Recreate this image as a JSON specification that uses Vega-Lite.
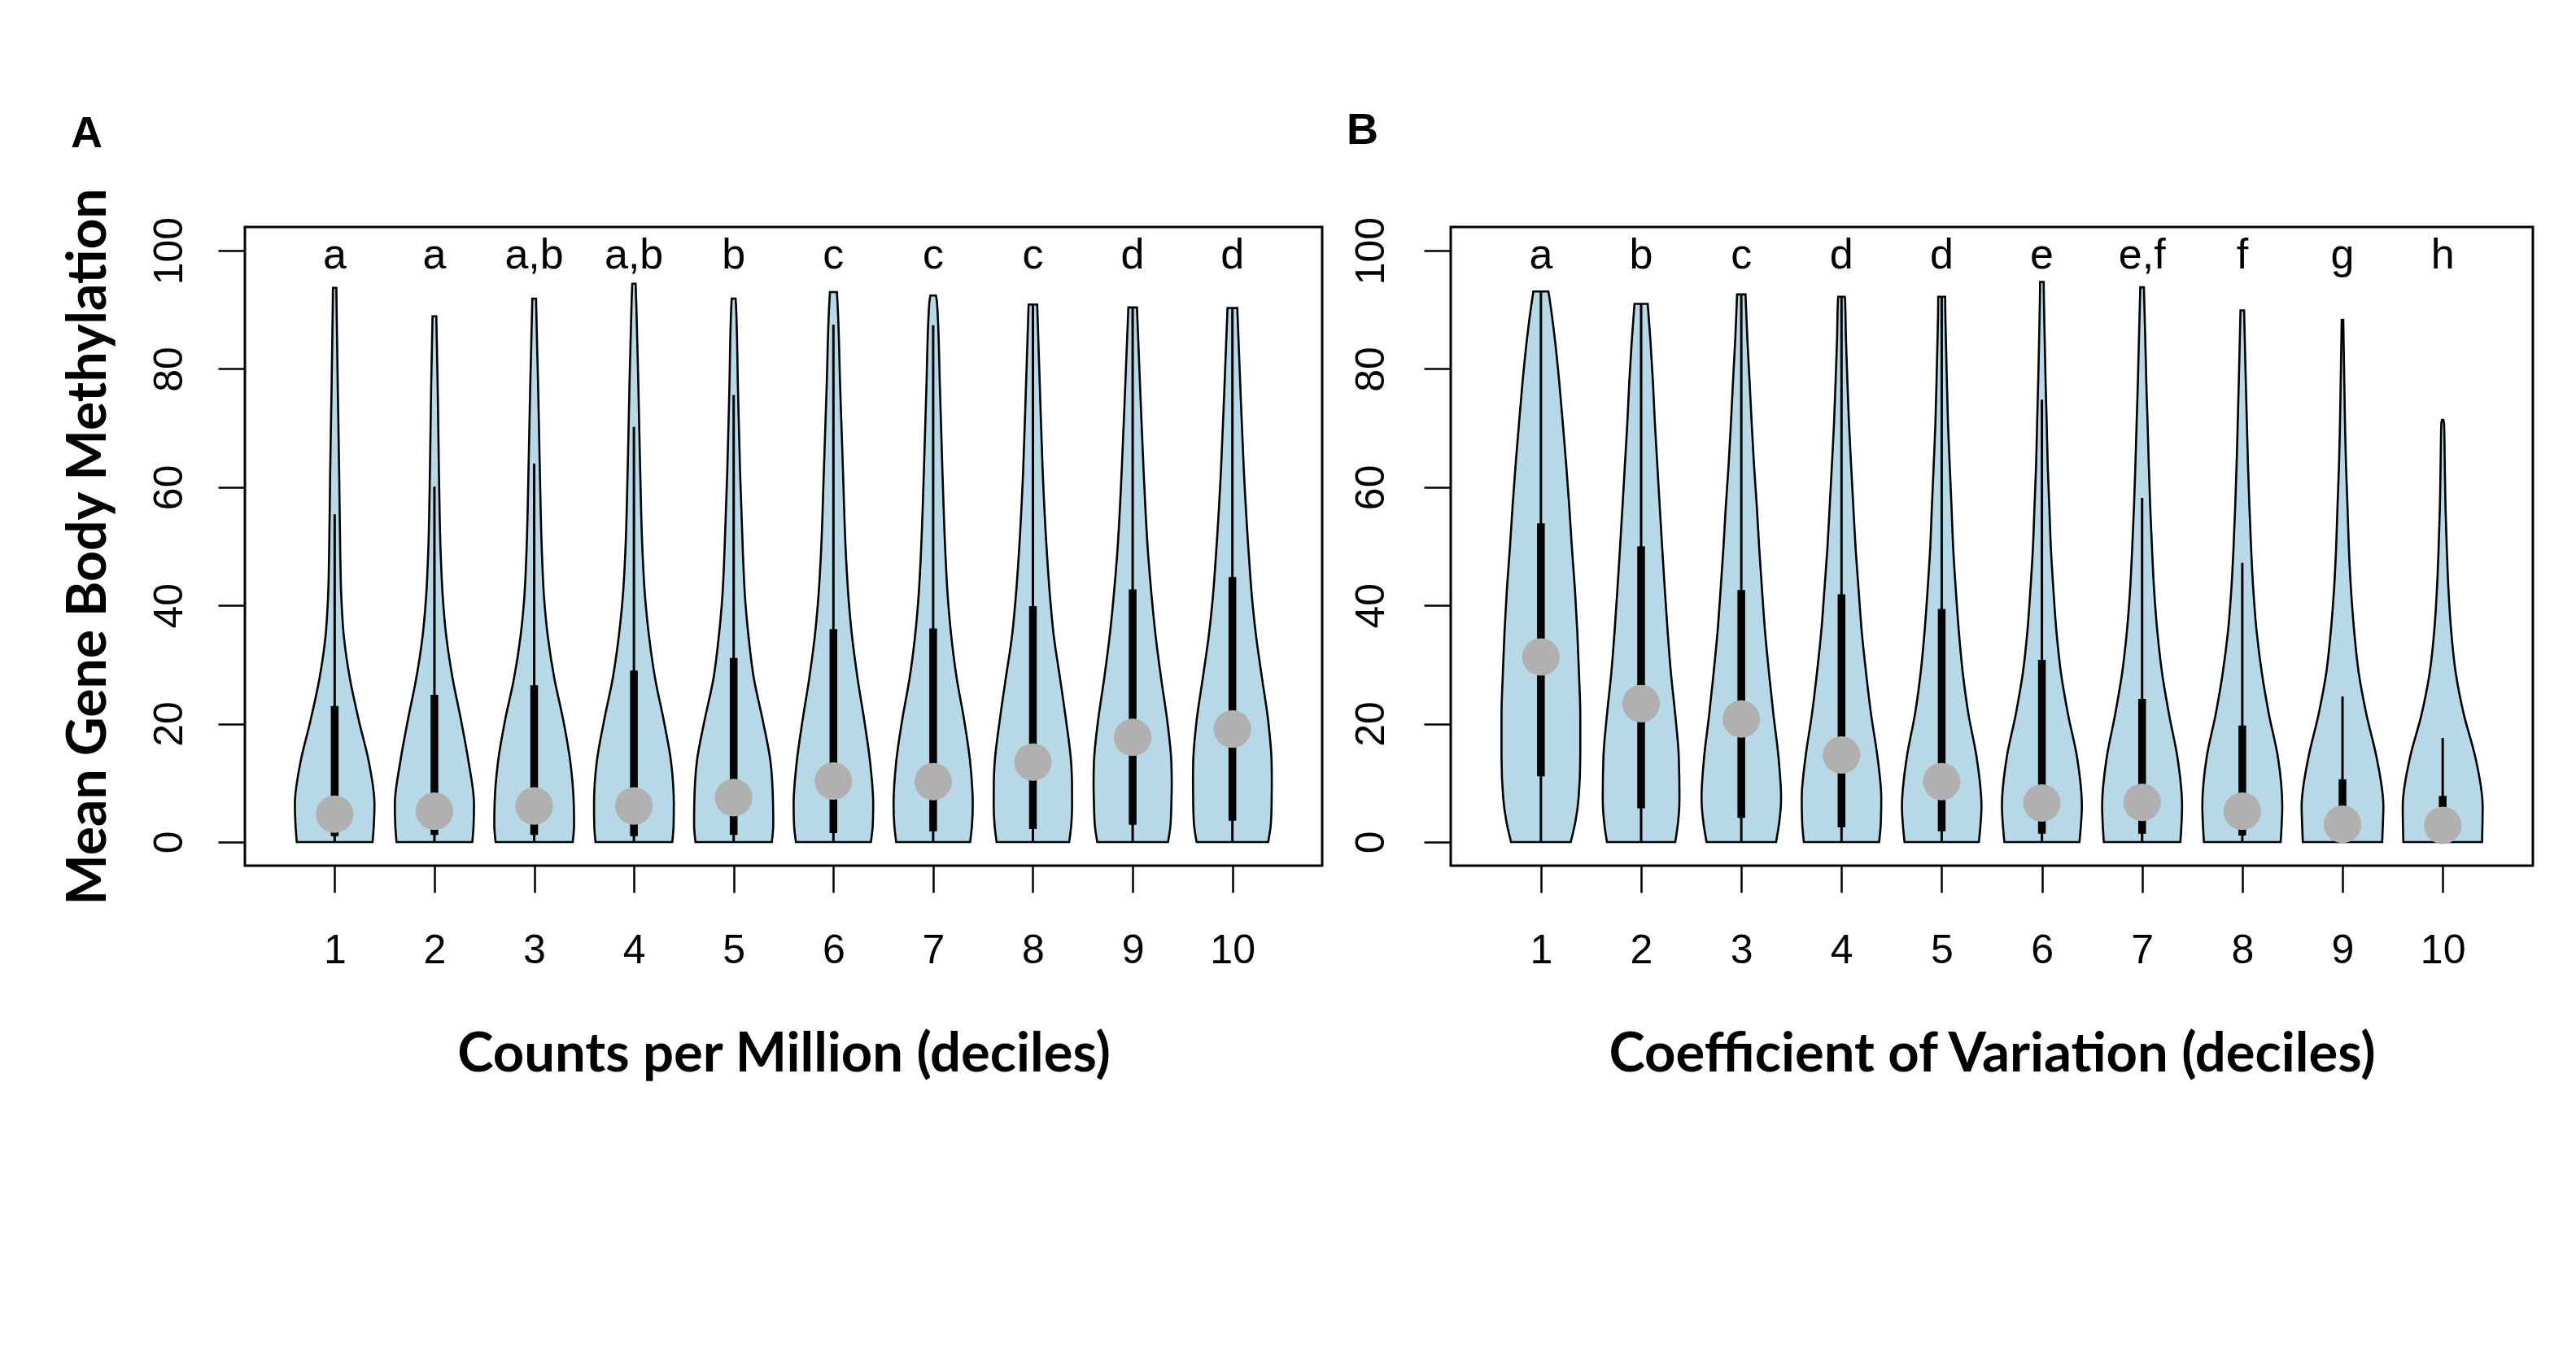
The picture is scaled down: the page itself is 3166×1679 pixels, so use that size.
{
  "$schema": "https://vega.github.io/schema/vega-lite/v6.json",
  "padding": {"left": 74, "top": 132, "right": 0, "bottom": 0},
  "background": "white",
  "config": {
    "view": {"stroke": "black", "strokeWidth": 3, "fill": "white"},
    "font": "Liberation Sans",
    "axis": {"grid": false, "domain": false, "tickColor": "black", "tickWidth": 2.5, "tickSize": 33, "labelColor": "black", "labelFont": "Liberation Sans", "labelFontSize": 50, "labelOverlap": false, "labelFlush": false, "titleColor": "black", "titleFont": "Lato", "titleFontWeight": "bold"}
  },
  "datasets": {
    "violinA": [
      {"d":1,"v":0,"w":0.38},{"d":1,"v":3,"w":0.393},{"d":1,"v":6.4,"w":0.399},{"d":1,"v":13.5,"w":0.343},{"d":1,"v":20.5,"w":0.243},{"d":1,"v":27.6,"w":0.153},{"d":1,"v":34.6,"w":0.093},{"d":1,"v":41.6,"w":0.066},{"d":1,"v":48.7,"w":0.056},{"d":1,"v":62.7,"w":0.045},{"d":1,"v":76.8,"w":0.031},{"d":1,"v":90.9,"w":0.019},{"d":1,"v":93.7,"w":0.017},
      {"d":2,"v":0,"w":0.38},{"d":2,"v":3,"w":0.393},{"d":2,"v":6.4,"w":0.397},{"d":2,"v":13.5,"w":0.343},{"d":2,"v":20.5,"w":0.268},{"d":2,"v":27.6,"w":0.183},{"d":2,"v":34.6,"w":0.12},{"d":2,"v":41.6,"w":0.083},{"d":2,"v":48.7,"w":0.063},{"d":2,"v":62.7,"w":0.045},{"d":2,"v":76.8,"w":0.033},{"d":2,"v":88.9,"w":0.019},
      {"d":3,"v":0,"w":0.387},{"d":3,"v":3,"w":0.4},{"d":3,"v":6.4,"w":0.397},{"d":3,"v":13.5,"w":0.363},{"d":3,"v":20.5,"w":0.293},{"d":3,"v":27.6,"w":0.203},{"d":3,"v":34.6,"w":0.138},{"d":3,"v":41.6,"w":0.098},{"d":3,"v":48.7,"w":0.078},{"d":3,"v":62.7,"w":0.057},{"d":3,"v":76.8,"w":0.04},{"d":3,"v":90.9,"w":0.02},{"d":3,"v":91.9,"w":0.019},
      {"d":4,"v":0,"w":0.385},{"d":4,"v":3,"w":0.398},{"d":4,"v":6.4,"w":0.4},{"d":4,"v":13.5,"w":0.373},{"d":4,"v":20.5,"w":0.3},{"d":4,"v":27.6,"w":0.213},{"d":4,"v":34.6,"w":0.153},{"d":4,"v":41.6,"w":0.111},{"d":4,"v":48.7,"w":0.087},{"d":4,"v":62.7,"w":0.063},{"d":4,"v":76.8,"w":0.045},{"d":4,"v":90.9,"w":0.024},{"d":4,"v":94.4,"w":0.017},
      {"d":5,"v":0,"w":0.383},{"d":5,"v":3,"w":0.397},{"d":5,"v":6.4,"w":0.395},{"d":5,"v":13.5,"w":0.37},{"d":5,"v":20.5,"w":0.293},{"d":5,"v":27.6,"w":0.203},{"d":5,"v":34.6,"w":0.15},{"d":5,"v":41.6,"w":0.113},{"d":5,"v":48.7,"w":0.093},{"d":5,"v":62.7,"w":0.064},{"d":5,"v":76.8,"w":0.043},{"d":5,"v":90.9,"w":0.023},{"d":5,"v":91.9,"w":0.019},
      {"d":6,"v":0,"w":0.376},{"d":6,"v":3,"w":0.395},{"d":6,"v":6.4,"w":0.399},{"d":6,"v":13.5,"w":0.368},{"d":6,"v":20.5,"w":0.31},{"d":6,"v":27.6,"w":0.243},{"d":6,"v":34.6,"w":0.188},{"d":6,"v":41.6,"w":0.15},{"d":6,"v":48.7,"w":0.125},{"d":6,"v":62.7,"w":0.096},{"d":6,"v":76.8,"w":0.068},{"d":6,"v":90.9,"w":0.042},{"d":6,"v":93.0,"w":0.035},
      {"d":7,"v":0,"w":0.371},{"d":7,"v":3,"w":0.39},{"d":7,"v":6.4,"w":0.397},{"d":7,"v":13.5,"w":0.371},{"d":7,"v":20.5,"w":0.312},{"d":7,"v":27.6,"w":0.237},{"d":7,"v":34.6,"w":0.183},{"d":7,"v":41.6,"w":0.146},{"d":7,"v":48.7,"w":0.123},{"d":7,"v":62.7,"w":0.093},{"d":7,"v":76.8,"w":0.068},{"d":7,"v":90.9,"w":0.04},{"d":7,"v":92.4,"w":0.028},
      {"d":8,"v":0,"w":0.364},{"d":8,"v":3,"w":0.385},{"d":8,"v":6.4,"w":0.393},{"d":8,"v":10,"w":0.392},{"d":8,"v":13.5,"w":0.383},{"d":8,"v":20.5,"w":0.333},{"d":8,"v":27.6,"w":0.273},{"d":8,"v":34.6,"w":0.211},{"d":8,"v":41.6,"w":0.171},{"d":8,"v":48.7,"w":0.141},{"d":8,"v":62.7,"w":0.098},{"d":8,"v":76.8,"w":0.07},{"d":8,"v":90.9,"w":0.043},
      {"d":9,"v":0,"w":0.355},{"d":9,"v":3,"w":0.38},{"d":9,"v":6.4,"w":0.388},{"d":9,"v":10,"w":0.392},{"d":9,"v":13.5,"w":0.388},{"d":9,"v":20.5,"w":0.347},{"d":9,"v":27.6,"w":0.286},{"d":9,"v":34.6,"w":0.232},{"d":9,"v":41.6,"w":0.19},{"d":9,"v":48.7,"w":0.155},{"d":9,"v":62.7,"w":0.11},{"d":9,"v":76.8,"w":0.075},{"d":9,"v":90.4,"w":0.043},
      {"d":10,"v":0,"w":0.359},{"d":10,"v":3,"w":0.385},{"d":10,"v":6.4,"w":0.393},{"d":10,"v":10,"w":0.395},{"d":10,"v":13.5,"w":0.393},{"d":10,"v":20.5,"w":0.359},{"d":10,"v":27.6,"w":0.298},{"d":10,"v":34.6,"w":0.239},{"d":10,"v":41.6,"w":0.195},{"d":10,"v":48.7,"w":0.164},{"d":10,"v":62.7,"w":0.115},{"d":10,"v":76.8,"w":0.08},{"d":10,"v":90.3,"w":0.049}
    ],
    "violinB": [
      {"d":1,"v":0,"w":0.298},{"d":1,"v":3.5,"w":0.345},{"d":1,"v":7.4,"w":0.376},{"d":1,"v":14.4,"w":0.393},{"d":1,"v":21.5,"w":0.393},{"d":1,"v":28.5,"w":0.38},{"d":1,"v":35.6,"w":0.363},{"d":1,"v":42.6,"w":0.34},{"d":1,"v":49.6,"w":0.31},{"d":1,"v":56.7,"w":0.283},{"d":1,"v":63.7,"w":0.253},{"d":1,"v":70.7,"w":0.219},{"d":1,"v":77.8,"w":0.183},{"d":1,"v":84.8,"w":0.141},{"d":1,"v":91.8,"w":0.087},{"d":1,"v":93.1,"w":0.075},
      {"d":2,"v":0,"w":0.341},{"d":2,"v":3.5,"w":0.37},{"d":2,"v":7.4,"w":0.383},{"d":2,"v":14.4,"w":0.376},{"d":2,"v":21.5,"w":0.341},{"d":2,"v":28.5,"w":0.298},{"d":2,"v":35.6,"w":0.265},{"d":2,"v":42.6,"w":0.237},{"d":2,"v":49.6,"w":0.211},{"d":2,"v":56.7,"w":0.186},{"d":2,"v":63.7,"w":0.162},{"d":2,"v":70.7,"w":0.138},{"d":2,"v":77.8,"w":0.118},{"d":2,"v":84.8,"w":0.093},{"d":2,"v":91.0,"w":0.066},
      {"d":3,"v":0,"w":0.347},{"d":3,"v":3.5,"w":0.38},{"d":3,"v":7.4,"w":0.397},{"d":3,"v":14.4,"w":0.371},{"d":3,"v":21.5,"w":0.321},{"d":3,"v":28.5,"w":0.277},{"d":3,"v":35.6,"w":0.237},{"d":3,"v":42.6,"w":0.207},{"d":3,"v":49.6,"w":0.179},{"d":3,"v":56.7,"w":0.155},{"d":3,"v":63.7,"w":0.127},{"d":3,"v":70.7,"w":0.104},{"d":3,"v":77.8,"w":0.083},{"d":3,"v":84.8,"w":0.061},{"d":3,"v":91.8,"w":0.044},{"d":3,"v":92.6,"w":0.042},
      {"d":4,"v":0,"w":0.376},{"d":4,"v":3.5,"w":0.393},{"d":4,"v":7.4,"w":0.397},{"d":4,"v":14.4,"w":0.359},{"d":4,"v":21.5,"w":0.296},{"d":4,"v":28.5,"w":0.246},{"d":4,"v":35.6,"w":0.202},{"d":4,"v":42.6,"w":0.171},{"d":4,"v":49.6,"w":0.141},{"d":4,"v":56.7,"w":0.118},{"d":4,"v":63.7,"w":0.096},{"d":4,"v":70.7,"w":0.075},{"d":4,"v":77.8,"w":0.059},{"d":4,"v":84.8,"w":0.045},{"d":4,"v":91.8,"w":0.035},{"d":4,"v":92.2,"w":0.033},
      {"d":5,"v":0,"w":0.371},{"d":5,"v":3.5,"w":0.39},{"d":5,"v":6,"w":0.397},{"d":5,"v":14.4,"w":0.348},{"d":5,"v":21.5,"w":0.268},{"d":5,"v":28.5,"w":0.211},{"d":5,"v":35.6,"w":0.171},{"d":5,"v":42.6,"w":0.141},{"d":5,"v":49.6,"w":0.115},{"d":5,"v":56.7,"w":0.098},{"d":5,"v":63.7,"w":0.08},{"d":5,"v":70.7,"w":0.063},{"d":5,"v":77.8,"w":0.052},{"d":5,"v":84.8,"w":0.042},{"d":5,"v":91.8,"w":0.035},{"d":5,"v":92.2,"w":0.035},
      {"d":6,"v":0,"w":0.375},{"d":6,"v":3,"w":0.39},{"d":6,"v":6,"w":0.399},{"d":6,"v":14.4,"w":0.35},{"d":6,"v":21.5,"w":0.262},{"d":6,"v":28.5,"w":0.191},{"d":6,"v":35.6,"w":0.145},{"d":6,"v":42.6,"w":0.115},{"d":6,"v":49.6,"w":0.09},{"d":6,"v":56.7,"w":0.074},{"d":6,"v":63.7,"w":0.058},{"d":6,"v":70.7,"w":0.048},{"d":6,"v":77.8,"w":0.037},{"d":6,"v":84.8,"w":0.028},{"d":6,"v":91.8,"w":0.02},{"d":6,"v":94.7,"w":0.018},
      {"d":7,"v":0,"w":0.382},{"d":7,"v":3,"w":0.393},{"d":7,"v":6,"w":0.399},{"d":7,"v":14.4,"w":0.352},{"d":7,"v":21.5,"w":0.27},{"d":7,"v":28.5,"w":0.2},{"d":7,"v":35.6,"w":0.152},{"d":7,"v":42.6,"w":0.12},{"d":7,"v":49.6,"w":0.099},{"d":7,"v":56.7,"w":0.081},{"d":7,"v":63.7,"w":0.067},{"d":7,"v":70.7,"w":0.055},{"d":7,"v":77.8,"w":0.042},{"d":7,"v":84.8,"w":0.032},{"d":7,"v":91.8,"w":0.021},{"d":7,"v":93.8,"w":0.018},
      {"d":8,"v":0,"w":0.383},{"d":8,"v":3,"w":0.393},{"d":8,"v":6,"w":0.399},{"d":8,"v":14.4,"w":0.355},{"d":8,"v":21.5,"w":0.267},{"d":8,"v":28.5,"w":0.196},{"d":8,"v":35.6,"w":0.143},{"d":8,"v":42.6,"w":0.11},{"d":8,"v":49.6,"w":0.088},{"d":8,"v":56.7,"w":0.071},{"d":8,"v":63.7,"w":0.057},{"d":8,"v":70.7,"w":0.046},{"d":8,"v":77.8,"w":0.035},{"d":8,"v":84.8,"w":0.025},{"d":8,"v":89.9,"w":0.018},
      {"d":9,"v":0,"w":0.396},{"d":9,"v":3,"w":0.403},{"d":9,"v":6,"w":0.408},{"d":9,"v":14.4,"w":0.339},{"d":9,"v":21.5,"w":0.24},{"d":9,"v":28.5,"w":0.163},{"d":9,"v":35.6,"w":0.117},{"d":9,"v":42.6,"w":0.085},{"d":9,"v":49.6,"w":0.064},{"d":9,"v":56.7,"w":0.05},{"d":9,"v":63.7,"w":0.035},{"d":9,"v":70.7,"w":0.025},{"d":9,"v":77.8,"w":0.018},{"d":9,"v":84.8,"w":0.011},{"d":9,"v":88.3,"w":0.008},
      {"d":10,"v":0,"w":0.393},{"d":10,"v":3,"w":0.397},{"d":10,"v":6,"w":0.399},{"d":10,"v":14.4,"w":0.325},{"d":10,"v":21.5,"w":0.212},{"d":10,"v":28.5,"w":0.131},{"d":10,"v":35.6,"w":0.085},{"d":10,"v":42.6,"w":0.058},{"d":10,"v":49.6,"w":0.041},{"d":10,"v":56.7,"w":0.028},{"d":10,"v":63.7,"w":0.021},{"d":10,"v":70.7,"w":0.014},{"d":10,"v":71.4,"w":0.006}
    ],
    "statsA": [
      {"d":1,"q1":1.0,"med":4.7,"q3":23.0,"wtop":55.4,"lab":"a"},
      {"d":2,"q1":1.2,"med":5.2,"q3":24.9,"wtop":60.1,"lab":"a"},
      {"d":3,"q1":1.2,"med":6.1,"q3":26.5,"wtop":64.0,"lab":"a,b"},
      {"d":4,"q1":1.0,"med":6.1,"q3":29.0,"wtop":70.2,"lab":"a,b"},
      {"d":5,"q1":1.2,"med":7.5,"q3":31.1,"wtop":75.6,"lab":"b"},
      {"d":6,"q1":1.5,"med":10.3,"q3":36.0,"wtop":87.5,"lab":"c"},
      {"d":7,"q1":1.8,"med":10.2,"q3":36.1,"wtop":87.4,"lab":"c"},
      {"d":8,"q1":2.2,"med":13.5,"q3":39.9,"wtop":90.9,"lab":"c"},
      {"d":9,"q1":2.9,"med":17.7,"q3":42.7,"wtop":90.4,"lab":"d"},
      {"d":10,"q1":3.6,"med":19.1,"q3":44.8,"wtop":90.3,"lab":"d"}
    ],
    "statsB": [
      {"d":1,"q1":11.1,"med":31.3,"q3":53.9,"wtop":93.1,"lab":"a"},
      {"d":2,"q1":5.7,"med":23.4,"q3":50.0,"wtop":91.0,"lab":"b"},
      {"d":3,"q1":4.1,"med":20.8,"q3":42.6,"wtop":92.6,"lab":"c"},
      {"d":4,"q1":2.5,"med":14.7,"q3":41.9,"wtop":92.2,"lab":"d"},
      {"d":5,"q1":1.8,"med":10.2,"q3":39.4,"wtop":92.2,"lab":"d"},
      {"d":6,"q1":1.4,"med":6.6,"q3":30.8,"wtop":74.8,"lab":"e"},
      {"d":7,"q1":1.4,"med":6.7,"q3":24.2,"wtop":58.2,"lab":"e,f"},
      {"d":8,"q1":1.1,"med":5.2,"q3":19.7,"wtop":47.2,"lab":"f"},
      {"d":9,"q1":0.5,"med":3.0,"q3":10.6,"wtop":24.6,"lab":"g"},
      {"d":10,"q1":0.5,"med":2.8,"q3":7.8,"wtop":17.6,"lab":"h"}
    ]
  },
  "spacing": 26,
  "hconcat": [
    {
      "width": 1324,
      "height": 785,
      "title": {"text": "A", "anchor": "start", "frame": "group", "dx": -214, "offset": -5, "baseline": "alphabetic", "fontSize": 54, "fontWeight": "bold", "font": "Liberation Sans", "color": "black"},
      "layer": [
        {
          "data": {"name": "violinA"},
          "transform": [{"calculate": "datum.d - datum.w", "as": "lo"}, {"calculate": "datum.d + datum.w", "as": "hi"}],
          "mark": {"type": "area", "orient": "horizontal", "fill": "#b7d8e6", "stroke": "black", "strokeWidth": 2.6, "interpolate": "monotone", "opacity": 1},
          "encoding": {
            "y": {"field": "v", "type": "quantitative", "scale": {"domain": [-4, 104], "nice": false, "zero": false},
                  "axis": {"values": [0, 20, 40, 60, 80, 100], "format": "d", "labelAngle": 270, "labelAlign": "center", "labelBaseline": "alphabetic", "labelPadding": 45, "titleFontSize": 66, "titleAngle": 270, "titleBaseline": "alphabetic", "titleAlign": "center", "titleX": -172, "titleY": 392.5},
                  "title": "Mean Gene Body Methylation"},
            "x": {"field": "lo", "type": "quantitative", "scale": {"domain": [0.1, 10.9], "nice": false, "zero": false},
                  "axis": {"values": [1, 2, 3, 4, 5, 6, 7, 8, 9, 10], "format": "d", "labelBaseline": "alphabetic", "labelPadding": 86, "titleFontSize": 67, "titleBaseline": "alphabetic", "titleY": 252},
                  "title": "Counts per Million (deciles)"},
            "x2": {"field": "hi"},
            "detail": {"field": "d", "type": "nominal"}
          }
        },
        {
          "data": {"name": "statsA"},
          "mark": {"type": "rule", "color": "black", "strokeWidth": 3},
          "encoding": {
            "x": {"field": "d", "type": "quantitative"},
            "y": {"field": "wtop", "type": "quantitative"},
            "y2": {"datum": 0}
          }
        },
        {
          "data": {"name": "statsA"},
          "mark": {"type": "rule", "color": "black", "strokeWidth": 9.5, "strokeCap": "butt"},
          "encoding": {
            "x": {"field": "d", "type": "quantitative"},
            "y": {"field": "q1", "type": "quantitative"},
            "y2": {"field": "q3"}
          }
        },
        {
          "data": {"name": "statsA"},
          "mark": {"type": "circle", "size": 2124, "color": "#b0b0b0", "opacity": 1},
          "encoding": {
            "x": {"field": "d", "type": "quantitative"},
            "y": {"field": "med", "type": "quantitative"}
          }
        },
        {
          "data": {"name": "statsA"},
          "mark": {"type": "text", "fontSize": 52, "baseline": "alphabetic", "align": "center", "font": "Liberation Sans", "color": "black"},
          "encoding": {
            "x": {"field": "d", "type": "quantitative"},
            "y": {"datum": 97, "type": "quantitative"},
            "text": {"field": "lab", "type": "nominal"}
          }
        }
      ]
    },
    {
      "width": 1330,
      "height": 785,
      "title": {"text": "B", "anchor": "start", "frame": "group", "dx": -128, "offset": 35, "baseline": "alphabetic", "fontSize": 54, "fontWeight": "bold", "font": "Liberation Sans", "color": "black"},
      "layer": [
        {
          "data": {"name": "violinB"},
          "transform": [{"calculate": "datum.d - datum.w", "as": "lo"}, {"calculate": "datum.d + datum.w", "as": "hi"}],
          "mark": {"type": "area", "orient": "horizontal", "fill": "#b7d8e6", "stroke": "black", "strokeWidth": 2.6, "interpolate": "monotone", "opacity": 1},
          "encoding": {
            "y": {"field": "v", "type": "quantitative", "scale": {"domain": [-4, 104], "nice": false, "zero": false},
                  "axis": {"values": [0, 20, 40, 60, 80, 100], "format": "d", "labelAngle": 270, "labelAlign": "center", "labelBaseline": "alphabetic", "labelPadding": 50, "title": null}},
            "x": {"field": "lo", "type": "quantitative", "scale": {"domain": [0.1, 10.9], "nice": false, "zero": false},
                  "axis": {"values": [1, 2, 3, 4, 5, 6, 7, 8, 9, 10], "format": "d", "labelBaseline": "alphabetic", "labelPadding": 86, "titleFontSize": 67, "titleBaseline": "alphabetic", "titleY": 252},
                  "title": "Coefficient of Variation (deciles)"},
            "x2": {"field": "hi"},
            "detail": {"field": "d", "type": "nominal"}
          }
        },
        {
          "data": {"name": "statsB"},
          "mark": {"type": "rule", "color": "black", "strokeWidth": 3},
          "encoding": {
            "x": {"field": "d", "type": "quantitative"},
            "y": {"field": "wtop", "type": "quantitative"},
            "y2": {"datum": 0}
          }
        },
        {
          "data": {"name": "statsB"},
          "mark": {"type": "rule", "color": "black", "strokeWidth": 9.5, "strokeCap": "butt"},
          "encoding": {
            "x": {"field": "d", "type": "quantitative"},
            "y": {"field": "q1", "type": "quantitative"},
            "y2": {"field": "q3"}
          }
        },
        {
          "data": {"name": "statsB"},
          "mark": {"type": "circle", "size": 2124, "color": "#b0b0b0", "opacity": 1},
          "encoding": {
            "x": {"field": "d", "type": "quantitative"},
            "y": {"field": "med", "type": "quantitative"}
          }
        },
        {
          "data": {"name": "statsB"},
          "mark": {"type": "text", "fontSize": 52, "baseline": "alphabetic", "align": "center", "font": "Liberation Sans", "color": "black"},
          "encoding": {
            "x": {"field": "d", "type": "quantitative"},
            "y": {"datum": 97, "type": "quantitative"},
            "text": {"field": "lab", "type": "nominal"}
          }
        }
      ]
    }
  ]
}
